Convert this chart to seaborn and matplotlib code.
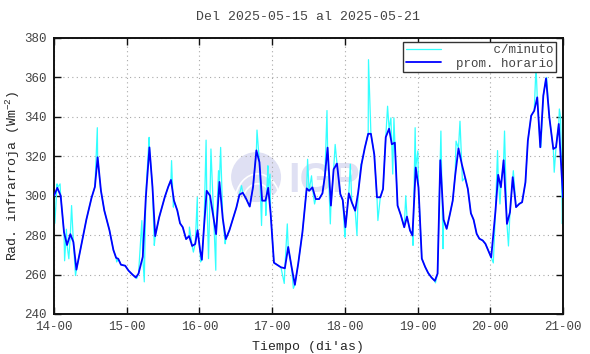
import matplotlib
matplotlib.use("Agg")
import matplotlib.pyplot as plt
from matplotlib.patches import Ellipse, Arc
import pandas as pd
import seaborn as sns

# promedio horario (horas desde 14-00)
prom_t = [0, 1.1, 2.2, 3.3, 4.3, 5.4, 6.4, 7.4, 9.1, 10.7, 12.4, 13.5, 14.4, 15.5,
          16.6, 18.3, 19.6, 20.5, 21.2, 22.1, 23.5, 24.6, 25.9, 27, 27.9, 29.3,
          30.3, 31.5, 32.5, 33.4, 34.7, 36.6, 37.7, 38.6, 39.6, 40.7, 41.6, 42.5,
          43.6, 44.6, 45.6, 46.6, 47.4, 48.2, 48.8, 49.5, 50.4, 51.5, 53.5, 54.6,
          55.7, 56.7, 57.9, 59.1, 60.2, 61.2, 62.3, 63.4, 64.6, 65.7, 66.8, 67.8,
          68.7, 69.8, 70.7, 71.5, 72.6, 73.8, 74.9, 76.2, 77.3, 78.4, 79.5, 80.6,
          82, 83.4, 84.2, 85.3, 86.4, 87.5, 88.6, 89.4, 90.3, 91.4, 92.3, 93.4,
          94.5, 95.3, 96.2, 97.3, 98.3, 99.4, 100.4, 101.5, 102.6, 103.7, 104.6,
          105.7, 106.6, 107.7, 108.6, 109.5, 110.6, 111.5, 112.5, 113.4, 114.5,
          115.6, 116.5, 117.5, 118.3, 119.4, 120.3, 121.4, 122.5, 123.5, 124.6,
          125.7, 126.6, 127.5, 128.6, 129.6, 130.7, 131.6, 132.4, 133.5, 134.6,
          135.7, 136.6, 137.6, 138.5, 139.5, 140.4, 141.5, 142.4, 143.3, 144.3,
          145.7, 146.6, 147.5, 148.4, 149.5, 150.5, 151.4, 152.5, 153.6, 154.5,
          155.6, 156.4, 157.5, 158.5, 159.5, 160.5, 161.5, 162.4, 163.5, 164.8,
          165.7, 166.6, 168]
prom_v = [300, 304, 300, 281.5, 275, 280.5, 276.5, 262.5, 275.5, 288, 299, 304.5,
          319.5, 302.5, 292.5, 282.5, 272.5, 268.5, 268, 265, 264.5, 262, 260,
          258.5, 260.5, 269, 299, 324.5, 304.5, 279.5, 289, 299.5, 304.5, 308,
          297.5, 292.5, 286, 284, 278, 279.5, 274.5, 275.5, 282.5, 272.5, 267.5,
          284, 302.5, 300, 280.5, 307, 288.5, 278, 282.5, 288.5, 294, 300.5,
          301.5, 298.5, 294.5, 304.5, 323, 317, 297.5, 297.5, 304, 291, 266,
          264.8, 263.7, 263.2, 274, 264, 254.8, 265.5, 281.5, 303.7, 302.5, 304.2,
          298.3, 298.3, 301.2, 310, 324.4, 295, 313.4, 316.3, 300.8, 297.8, 284,
          301.2, 296.6, 292.4, 301.7, 316, 324.4, 331.4, 331.4, 321, 299.2, 299.2,
          303.4, 329.7, 334, 326.1, 326.9, 295, 290, 284, 289.4, 282.4, 279.8,
          314.3, 304.2, 268.1, 263.9, 260.8, 258.5, 256.8, 260.5, 318, 287.8,
          283.2, 290.8, 297.5, 310.1, 324, 316, 309.2, 303.4, 291.1, 287.8, 280.7,
          278.2, 277.3, 275.6, 272.3, 268.7, 292, 310.6, 304.3, 318, 285.7, 291.6,
          309.4, 294.2, 295.9, 296.7, 306.8, 327.9, 340.6, 343.1, 349.9, 324.6,
          350.7, 359.5, 339.7, 323.7, 324.6, 336.4, 299.2]

# picos de la serie por minuto
pico_t = [0.3, 1.0, 2.0, 3.5, 4.1, 4.9, 5.8, 7.1, 14.3, 15.3, 20.7, 27.3, 29.0, 29.8,
          30.4, 31.4, 33.1, 38.8, 39.4, 44.7, 46.0, 47.3, 48.4, 50.2, 51.0, 51.8,
          53.4, 54.3, 55.0, 56.5, 61.9, 67.0, 68.5, 69.9, 70.6, 71.3, 76.0, 77.0,
          79.0, 83.7, 85.0, 86.0, 90.1, 91.2, 92.8, 96.0, 97.8, 100.0, 101.3,
          103.8, 106.9, 110.1, 111.2, 111.8, 112.2, 116.1, 118.5, 119.2, 120.1,
          125.9, 127.7, 128.4, 132.7, 134.0, 134.8, 145.0, 146.4, 147.2, 148.7,
          150.0, 151.6, 159.1, 160.7, 162.6, 165.1, 166.8, 167.2, 167.8]
pico_v = [286, 306, 306, 267, 283, 268, 295, 259.5, 334.5, 304.5, 266.4, 258, 287.4,
          256.3, 303.4, 329.6, 274.8, 317.8, 294.2, 284.1, 271.4, 299.2, 266.4,
          328.2, 268.1, 323.7, 262.2, 312.7, 324.5, 275.6, 305.1, 333.3, 284.9,
          290, 315.2, 311, 255.5, 285.7, 253, 318.5, 310.1, 295.8, 343.2, 285.7,
          326, 279, 316, 279.8, 316, 369, 287.4, 345.4, 339.5, 311, 339.5, 300,
          274.8, 334.5, 322.7, 255.8, 332.8, 273.1, 327.7, 337.8, 307.5, 265.9,
          322.9, 295.8, 332.8, 274.5, 312.7, 365.9, 324.6, 360, 311.9, 344, 339.7,
          285.7]

tick_pos = [0, 24, 48, 72, 96, 120, 144, 168]
tick_lab = ["14-00", "15-00", "16-00", "17-00", "18-00", "19-00", "20-00", "21-00"]

df_hora = pd.DataFrame({"t": prom_t, "v": prom_v})
df_min = (pd.concat([df_hora, pd.DataFrame({"t": pico_t, "v": pico_v})])
          .sort_values("t").reset_index(drop=True))

sns.set_style("ticks")
plt.rcParams["font.family"] = ["Liberation Mono", "DejaVu Sans Mono"]
plt.rcParams["mathtext.default"] = "regular"
plt.rcParams["text.color"] = "#444444"

fig = plt.figure(figsize=(5.9, 3.54), dpi=100)
ax = fig.add_axes([54 / 590, 40 / 354, 509 / 590, 276 / 354])

# marca de agua IGP
ax.add_patch(Ellipse((0.397, 0.496), 50 / 509, 50 / 276, transform=ax.transAxes,
                     facecolor="#dfe0f3", edgecolor="none", zorder=0))
for w in (0.06, 0.09):
    ax.add_patch(Arc((0.40, 0.40), w, w * 509 / 276 * 1.3, theta1=20, theta2=160,
                     transform=ax.transAxes, color="white", lw=1.2, zorder=0))
ax.text(0.46, 0.442, "IGP", transform=ax.transAxes, fontsize=30, fontweight="bold",
        family="Liberation Sans", color="#dfe0f3", ha="left", va="baseline", zorder=0)

sns.lineplot(data=df_min, x="t", y="v", ax=ax, color="#33ffff", lw=0.9,
             estimator=None, sort=False, label="     c/minuto", zorder=2)
sns.lineplot(data=df_hora, x="t", y="v", ax=ax, color="#0000ff", lw=1.3,
             estimator=None, sort=False, label="prom. horario", zorder=3)

ax.set_xlim(0, 168)
ax.set_ylim(240, 380)
ax.set_xticks(tick_pos)
ax.set_xticklabels(tick_lab)
ax.set_yticks(range(240, 381, 20))
ax.tick_params(direction="in", length=5, width=1, top=True, right=True,
               labelsize=9, pad=5, colors="#111111", labelcolor="#444444")
ax.grid(True, color="#a8a8a8", linestyle=(0, (1, 3)), lw=0.8)
for s in ax.spines.values():
    s.set_linewidth(1.4)
    s.set_color("#111111")

ax.set_title("Del 2025-05-15 al 2025-05-21", fontsize=9.5, pad=13)
ax.set_xlabel("Tiempo (di'as)", fontsize=9.5, labelpad=6)
ax.set_ylabel("Rad. infrarroja (Wm$^{-2}$)", fontsize=9.5, labelpad=2)

leg = ax.legend(loc="upper right", bbox_to_anchor=(0.986, 0.986), borderaxespad=0,
                fancybox=False, edgecolor="#333333", framealpha=1, fontsize=9,
                handlelength=2.8, borderpad=0.2, labelspacing=0.1, handletextpad=1.2)
leg.get_frame().set_linewidth(1.0)
for txt in leg.get_texts():
    txt.set_color("#444444")

fig.savefig("out.png", dpi=100)
